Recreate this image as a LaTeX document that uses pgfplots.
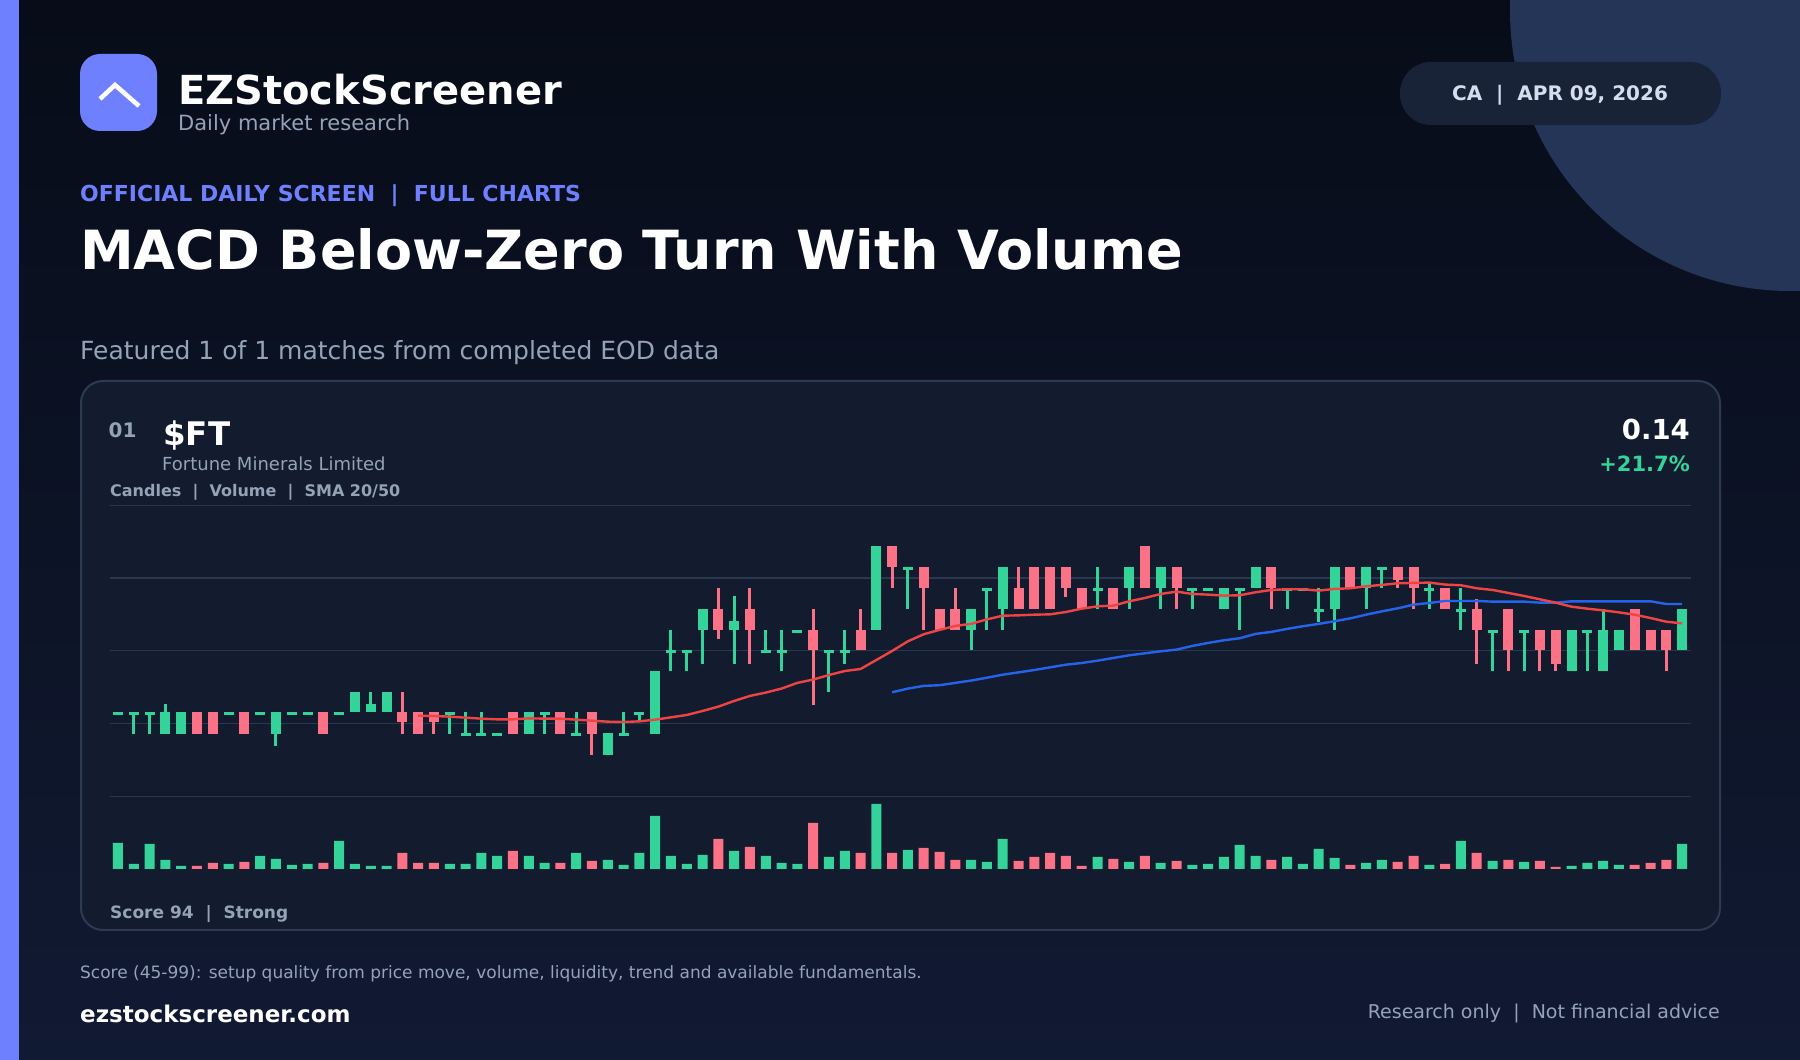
\documentclass[border=0pt]{standalone}
\usepackage{pgfplots}
\usepackage{pgfplotstable}
\usepackage{fontspec}
\setmainfont{DejaVu Sans}
\pgfplotsset{compat=1.18}
\definecolor{bgtop}{HTML}{070C18}
\definecolor{bgmid}{HTML}{0B1120}
\definecolor{bgbot}{HTML}{111A33}
\definecolor{accent}{HTML}{6F80FF}
\definecolor{blob}{HTML}{243558}
\definecolor{pill}{HTML}{192337}
\definecolor{card}{HTML}{131C2E}
\definecolor{cardline}{HTML}{2C3B52}
\definecolor{gridc}{HTML}{2A384D}
\definecolor{up}{HTML}{34D399}
\definecolor{down}{HTML}{FB7185}
\definecolor{smaa}{HTML}{EF4444}
\definecolor{smab}{HTML}{2563EB}
\definecolor{muted}{HTML}{94A3B8}
\definecolor{pilltext}{HTML}{D5DEEF}
\newcommand{\fs}[1]{\fontsize{#1}{#1}\selectfont}
% i top bot hi lo vol
\pgfplotstableread{
i top bot hi lo vol
0 .078 .078 .078 .078 78
1 .078 .078 .078 .065 15
2 .078 .078 .078 .065 75
3 .078 .065 .083 .065 27
4 .078 .065 .078 .065 9
7 .078 .078 .078 .078 15
9 .078 .078 .078 .078 39
10 .078 .065 .078 .0577 30
11 .078 .078 .078 .078 12
12 .078 .078 .078 .078 15
14 .078 .078 .078 .078 84
15 .09 .078 .09 .078 15
16 .083 .078 .09 .078 9
17 .09 .078 .09 .078 9
21 .078 .078 .078 .065 15
22 .0655 .0655 .078 .0655 15
23 .0655 .0655 .078 .0655 48
24 .0655 .0655 .0655 .0655 39
26 .078 .065 .078 .065 39
27 .078 .078 .078 .065 18
29 .0655 .0655 .078 .0655 48
31 .0655 .0525 .0655 .0525 27
32 .0655 .0655 .078 .0655 12
33 .078 .078 .078 .0725 48
34 .1027 .065 .1027 .065 159
35 .115 .115 .1275 .1025 39
36 .115 .115 .115 .1025 15
37 .14 .1275 .14 .107 42
39 .1326 .1275 .1476 .107 54
41 .115 .115 .1275 .115 39
42 .115 .115 .1275 .1025 18
43 .1275 .1275 .1275 .1275 15
45 .115 .115 .115 .09 36
46 .115 .115 .1275 .107 54
48 .1775 .1275 .1775 .1275 195
50 .165 .165 .165 .14 57
54 .14 .1275 .14 .115 27
55 .1525 .1525 .1525 .1275 21
56 .165 .14 .165 .1275 90
62 .1525 .1525 .165 .14 36
64 .165 .1525 .165 .14 21
66 .165 .1525 .165 .14 18
68 .1525 .1525 .1525 .14 12
69 .1525 .1525 .1525 .1525 15
70 .1525 .14 .1525 .14 36
71 .1525 .1525 .1525 .1275 72
72 .165 .1525 .165 .1525 39
74 .1525 .1525 .1525 .14 36
75 .1525 .1525 .1525 .1525 15
76 .14 .14 .1525 .132 60
77 .165 .14 .165 .1275 33
79 .165 .1525 .165 .14 18
80 .165 .165 .165 .1525 27
83 .1525 .1525 .156 .14 12
85 .14 .14 .1525 .1275 84
87 .1275 .1275 .1275 .1025 24
89 .1275 .1275 .1275 .1025 21
92 .1275 .1025 .1275 .1025 9
93 .1275 .1275 .1275 .1025 18
94 .1275 .1025 .14 .1025 24
95 .1275 .115 .1275 .115 12
99 .14 .115 .14 .115 75
}\uptable
\pgfplotstableread{
i top bot hi lo vol
5 .078 .065 .078 .065 9
6 .078 .065 .078 .065 18
8 .078 .065 .078 .065 21
13 .078 .065 .078 .065 18
18 .078 .0722 .09 .065 48
19 .078 .065 .078 .065 18
20 .078 .0722 .078 .065 18
25 .078 .065 .078 .065 54
28 .078 .065 .078 .065 18
30 .078 .065 .078 .0525 24
38 .14 .1275 .1525 .122 90
40 .14 .1275 .1525 .107 66
44 .1275 .115 .14 .0824 138
47 .1275 .115 .14 .115 48
49 .1775 .165 .1775 .1525 48
51 .165 .1525 .165 .1275 63
52 .14 .1275 .14 .1275 51
53 .14 .1275 .1525 .1275 27
57 .1525 .14 .165 .14 24
58 .165 .14 .165 .14 36
59 .165 .14 .165 .14 48
60 .165 .1525 .165 .147 39
61 .1525 .14 .1525 .14 9
63 .1525 .14 .1525 .14 30
65 .1775 .1525 .1775 .1525 39
67 .165 .1525 .165 .14 24
73 .165 .1525 .165 .14 27
78 .165 .1525 .165 .1525 12
81 .165 .157 .165 .1525 21
82 .165 .1525 .165 .14 39
84 .1525 .14 .1525 .14 15
86 .14 .1275 .1456 .107 48
88 .14 .115 .14 .1025 27
90 .1275 .115 .1275 .1025 24
91 .1275 .107 .1275 .1025 6
96 .14 .115 .14 .115 12
97 .1275 .115 .1275 .115 18
98 .1275 .115 .1275 .1025 27
}\downtable
\pgfplotstableread{
i sma
19 .0760
20 .0758
21 .0754
22 .0748
23 .0742
24 .0738
25 .0738
26 .0744
27 .0742
28 .0742
29 .0736
30 .0730
31 .0724
32 .0722
33 .0726
34 .0736
35 .0750
36 .0764
37 .0788
38 .0814
39 .0848
40 .0878
41 .0898
42 .0922
43 .0956
44 .0976
45 .1003
46 .1027
47 .1039
48 .1093
49 .1147
50 .1205
51 .1247
52 .1273
53 .1297
54 .1309
55 .1336
56 .1358
57 .1360
58 .1364
59 .1366
60 .1380
61 .1400
62 .1414
63 .1418
64 .1444
65 .1464
66 .1488
67 .1502
68 .1488
69 .1484
70 .1478
71 .1480
72 .1498
73 .1512
74 .1516
75 .1516
76 .1508
77 .1518
78 .1522
79 .1534
80 .1542
81 .1552
82 .1554
83 .1556
84 .1544
85 .1540
86 .1522
87 .1512
88 .1494
89 .1476
90 .1456
91 .1436
92 .1412
93 .1400
94 .1390
95 .1378
96 .1364
97 .1344
98 .1322
99 .1312
}\smatwenty
\pgfplotstableread{
i sma
49 .0900
50 .0922
51 .0938
52 .0942
53 .0956
54 .0970
55 .0987
56 .1005
57 .1019
58 .1033
59 .1049
60 .1065
61 .1075
62 .1089
63 .1105
64 .1121
65 .1133
66 .1145
67 .1155
68 .1177
69 .1195
70 .1211
71 .1223
72 .1249
73 .1261
74 .1279
75 .1295
76 .1309
77 .1325
78 .1342
79 .1364
80 .1384
81 .1402
82 .1424
83 .1434
84 .1446
85 .1446
86 .1446
87 .1442
88 .1442
89 .1442
90 .1436
91 .1436
92 .1444
93 .1444
94 .1444
95 .1444
96 .1444
97 .1444
98 .1428
99 .1428
}\smafifty
\pgfplotsset{chartbase/.style={
  scale only axis, width=1581pt, xmin=-0.506, xmax=99.56,
  axis line style={draw=none}, tick style={draw=none},
  xtick=\empty, yticklabels={}, clip=false}}
\begin{document}
\begin{tikzpicture}[x=1pt,y=1pt]
\useasboundingbox (0,0) rectangle (1800,1060);
\begin{scope}
\clip (0,0) rectangle (1800,1060);
\shade[top color=bgtop,middle color=bgmid,bottom color=bgbot] (0,0) rectangle (1800,1060);
\fill[blob] (1790,1049) circle (280);
\fill[accent] (0,0) rectangle (19,1060);
\fill[pill,rounded corners=31pt] (1400,935) rectangle (1721,998);
\end{scope}
% logo
\fill[accent,rounded corners=20pt] (80,929) rectangle (157,1006);
\draw[white,line width=4.5pt] (100,961) -- (115,975) -- (139,954);
\node[anchor=base west,inner sep=0,text=white,font=\bfseries\fs{40}] at (178,955) {EZStockScreener};
\node[anchor=base west,inner sep=0,text=muted,font=\fs{21}] at (178,929.5) {Daily market research};
\node[anchor=base west,inner sep=0,text=accent,font=\bfseries\fs{22}] at (80,858.5) {OFFICIAL DAILY SCREEN~~|~~FULL CHARTS};
\node[anchor=base west,inner sep=0,text=white,font=\bfseries\fs{54}] at (80,790) {MACD Below-Zero Turn With Volume};
\node[anchor=base west,inner sep=0,text=muted,font=\fs{25}] at (80,700) {Featured 1 of 1 matches from completed EOD data};
\node[anchor=base,inner sep=0,text=pilltext,font=\bfseries\fs{20}] at (1560,959) {CA~~|~~APR 09, 2026};
% card
\draw[fill=card,draw=cardline,line width=2pt,rounded corners=22pt] (81,130) rectangle (1720,679);
\node[anchor=base west,inner sep=0,text=muted,font=\bfseries\fs{20}] at (108.5,622.5) {01};
\node[anchor=base west,inner sep=0,text=white,font=\bfseries\fs{32.5}] at (163,614) {\$FT};
\node[anchor=base west,inner sep=0,text=muted,font=\fs{18}] at (162,589) {Fortune Minerals Limited};
\node[anchor=base west,inner sep=0,text=muted,font=\bfseries\fs{16}] at (110,563) {Candles~~|~~Volume~~|~~SMA 20/50};
\node[anchor=base east,inner sep=0,text=white,font=\bfseries\fs{27.5}] at (1690,620) {0.14};
\node[anchor=base east,inner sep=0,text=up,font=\bfseries\fs{21}] at (1690,588) {+21.7\%};
\node[anchor=base west,inner sep=0,text=muted,font=\bfseries\fs{17}] at (110,141) {Score 94~~|~~Strong};
\node[anchor=base west,inner sep=0,text=muted,font=\fs{17}] at (80,81) {Score (45-99): setup quality from price move, volume, liquidity, trend and available fundamentals.};
\node[anchor=base west,inner sep=0,text=white,font=\bfseries\fs{23}] at (80,37.5) {ezstockscreener.com};
\node[anchor=base east,inner sep=0,text=muted,font=\fs{19}] at (1720,41) {Research only~~|~~Not financial advice};
% price panel
\begin{axis}[chartbase, at={(110pt,263.7pt)}, anchor=south west, height=291pt,
  ymin=.02776, ymax=.20184, ytick={.02776,.07128,.1148,.15832,.20184},
  ymajorgrids, grid style={gridc,line width=1.2pt}]
\addplot[up,line width=3pt,line cap=butt,mark=none,quiver={u=0,v={\thisrow{hi}-\thisrow{lo}}}]
  table[x=i,y=lo] {\uptable};
\addplot[down,line width=3pt,line cap=butt,mark=none,quiver={u=0,v={\thisrow{hi}-\thisrow{lo}}}]
  table[x=i,y=lo] {\downtable};
\addplot[up,line width=10pt,line cap=butt,mark=none,quiver={u=0,v={-max(\thisrow{top}-\thisrow{bot},0.0018)}}]
  table[x=i,y=top] {\uptable};
\addplot[down,line width=10pt,line cap=butt,mark=none,quiver={u=0,v={-max(\thisrow{top}-\thisrow{bot},0.0018)}}]
  table[x=i,y=top] {\downtable};
\addplot[smab,line width=2.4pt,sharp plot,mark=none] table[x=i,y=sma] {\smafifty};
\addplot[smaa,line width=2.4pt,sharp plot,mark=none] table[x=i,y=sma] {\smatwenty};
\end{axis}
% volume panel
\begin{axis}[chartbase, at={(110pt,191pt)}, anchor=south west, height=73pt,
  ymin=0, ymax=219, ytick=\empty, ybar, bar width=10pt, bar shift=0pt]
\addplot[fill=up,draw=none] table[x=i,y=vol] {\uptable};
\addplot[fill=down,draw=none] table[x=i,y=vol] {\downtable};
\end{axis}
\end{tikzpicture}
\end{document}
